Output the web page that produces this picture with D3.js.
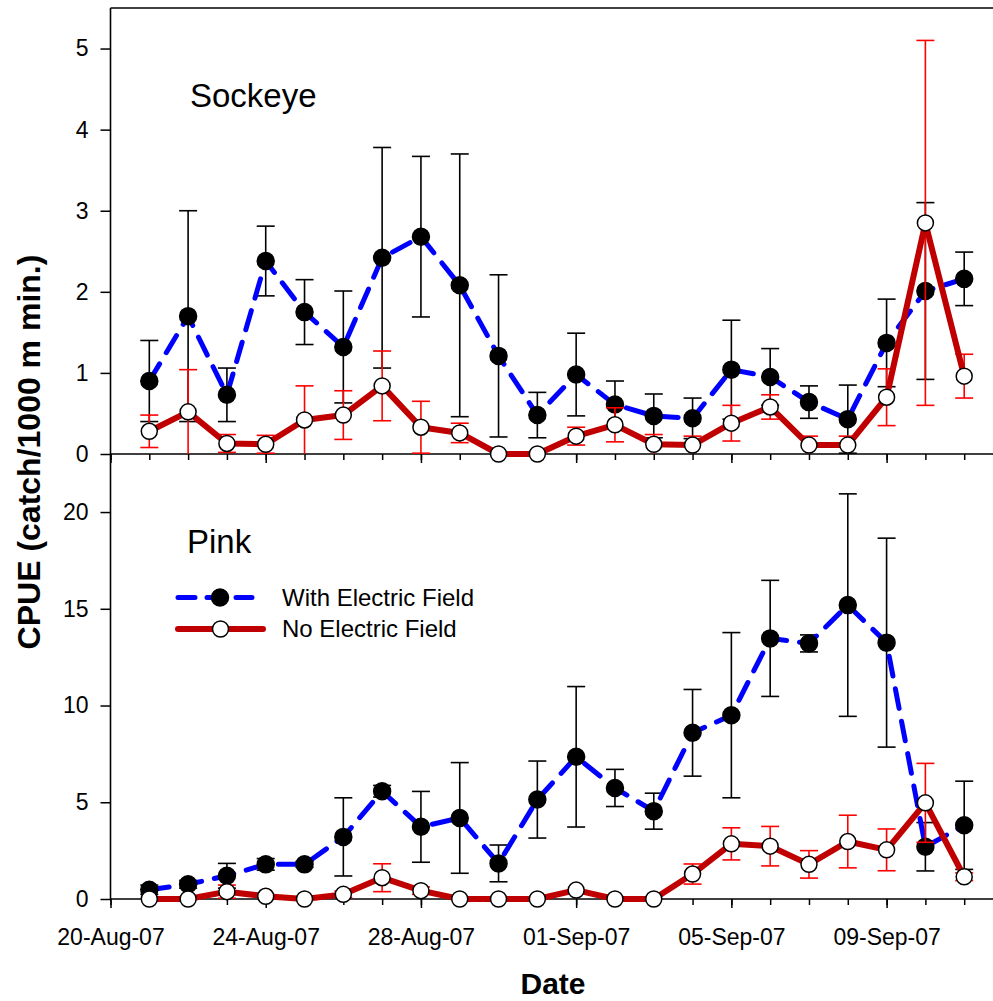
<!DOCTYPE html>
<html><head><meta charset="utf-8">
<script src="https://cdn.jsdelivr.net/npm/d3@7"></script>
<style>body{margin:0;background:#fff} svg{display:block} text{font-family:Arial,"Liberation Sans",sans-serif}</style>
</head><body><svg width="993" height="1001"></svg>
<script>
// ---- data ----
const dates = ["2007-08-21","2007-08-22","2007-08-23","2007-08-24","2007-08-25","2007-08-26","2007-08-27","2007-08-28","2007-08-29","2007-08-30","2007-08-31","2007-09-01","2007-09-02","2007-09-03","2007-09-04","2007-09-05","2007-09-06","2007-09-07","2007-09-08","2007-09-09","2007-09-10","2007-09-11"];
const sockeyeWith   = [0.90,1.70,0.73,2.38,1.75,1.32,2.42,2.68,2.08,1.21,0.48,0.98,0.61,0.47,0.44,1.04,0.95,0.64,0.43,1.37,2.01,2.16];
const sockeyeWithSE = [0.50,1.30,0.33,0.43,0.40,0.69,1.36,0.99,1.62,1.00,0.28,0.51,0.29,0.27,0.25,0.61,0.35,0.20,0.42,0.54,1.09,0.33];
const sockeyeNo     = [0.28,0.52,0.13,0.12,0.42,0.48,0.84,0.33,0.26,0,0,0.22,0.36,0.12,0.11,0.38,0.58,0.11,0.11,0.70,2.85,0.96];
const sockeyeNoSE   = [0.20,0.52,0.11,0.11,0.42,0.30,0.43,0.32,0.12,0,0,0.11,0.21,0.12,0.11,0.22,0.15,0.11,0.11,0.35,2.25,0.27];
const pinkWith      = [0.48,0.76,1.20,1.79,1.79,3.21,5.57,3.73,4.19,1.84,5.14,7.35,5.74,4.54,8.59,9.50,13.47,13.21,15.19,13.25,2.70,3.81];
const pinkWithSE    = [0.24,0.20,0.64,0.30,0.15,2.02,0.30,1.83,2.86,0.95,1.99,3.63,0.96,0.93,2.24,4.27,3.00,0.44,5.75,5.40,1.25,2.28];
const pinkNo        = [0,0,0.38,0.14,0,0.24,1.10,0.43,0,0,0,0.46,0,0,1.29,2.85,2.73,1.79,2.97,2.54,4.97,1.15];
const pinkNoSE      = [0,0,0.34,0,0,0.17,0.72,0.19,0,0,0,0,0,0,0.52,0.83,1.02,0.71,1.36,1.08,2.04,0.20];
const majorTickDates = ["2007-08-20","2007-08-24","2007-08-28","2007-09-01","2007-09-05","2007-09-09"];
const xTickLabels = ["20-Aug-07","24-Aug-07","28-Aug-07","01-Sep-07","05-Sep-07","09-Sep-07"];
const sockeyeTicks = [0,1,2,3,4,5];
const pinkTicks = [0,5,10,15,20];
const seriesNames = ["With Electric Field","No Electric Field"];
const panelNames = ["Sockeye","Pink"];

// ---- scales ----
const parse = d3.timeParse("%Y-%m-%d");
const D = dates.map(parse);
const L = 110.5, R = 1003;
const x = d3.scaleTime().domain([parse("2007-08-20"), parse("2007-09-12")]).range([L, R]);
const yTop = d3.scaleLinear().domain([0, 5.5]).range([454, 8]);
const yBot = d3.scaleLinear().domain([0, 23]).range([899, 454]);

const svg = d3.select("svg");
const BLUE = "#0000ff", DRED = "#c00000", RED = "#ff0000";
const DASH = "20,13";

function drawSeries(y, vals, se, filled) {
  const g = svg.append("g");
  const errCol = filled ? "#000" : RED;
  const cap = 9;
  vals.forEach((v, i) => {
    const cx = x(D[i]);
    const hi = v + se[i], lo = Math.max(0, v - se[i]);
    if (se[i] <= 0) return;
    g.append("line").attr("x1", cx).attr("x2", cx).attr("y1", y(hi)).attr("y2", y(lo))
      .attr("stroke", errCol).attr("stroke-width", 1.6);
    g.append("line").attr("x1", cx - cap).attr("x2", cx + cap).attr("y1", y(hi)).attr("y2", y(hi))
      .attr("stroke", errCol).attr("stroke-width", 1.6);
    if (lo > 0.001) g.append("line").attr("x1", cx - cap).attr("x2", cx + cap).attr("y1", y(lo)).attr("y2", y(lo))
      .attr("stroke", errCol).attr("stroke-width", 1.6);
  });
  const line = d3.line().x((d, i) => x(D[i])).y(d => y(d));
  g.append("path").datum(vals).attr("d", line).attr("fill", "none")
    .attr("stroke", filled ? BLUE : DRED).attr("stroke-width", filled ? 5 : 6)
    .attr("stroke-linecap", "round").attr("stroke-linejoin", "round")
    .attr("stroke-dasharray", filled ? DASH : null);
  g.selectAll("circle").data(vals).join("circle")
    .attr("cx", (d, i) => x(D[i])).attr("cy", d => y(d))
    .attr("r", filled ? 8.5 : 8)
    .attr("fill", filled ? "#000" : "#fff").attr("stroke", "#000").attr("stroke-width", 1.5);
}

// ---- axes ----
function yAxis(y, ticks) {
  const g = svg.append("g").attr("transform", `translate(${L},0)`)
    .call(d3.axisLeft(y).tickValues(ticks).tickSize(10).tickPadding(12).tickFormat(d3.format("d")));
  g.select(".domain").remove();
  g.selectAll("line").attr("stroke-width", 1.5);
  g.selectAll("text").attr("font-size", 23).attr("fill", "#000");
}
function xAxis(yPos, labels) {
  const minor = svg.append("g").attr("transform", `translate(0,${yPos})`)
    .call(d3.axisBottom(x).ticks(d3.timeDay.every(1)).tickSize(6).tickFormat(""));
  minor.select(".domain").remove();
  minor.selectAll("line").attr("stroke-width", 1.5);
  const major = svg.append("g").attr("transform", `translate(0,${yPos})`)
    .call(d3.axisBottom(x).tickValues(majorTickDates.map(parse)).tickSize(9).tickPadding(21)
      .tickFormat((d, i) => labels ? xTickLabels[i] : ""));
  major.select(".domain").remove();
  major.selectAll("line").attr("stroke-width", 1.5);
  major.selectAll("text").attr("font-size", 23).attr("fill", "#000");
}

yAxis(yTop, sockeyeTicks);
yAxis(yBot, pinkTicks);
xAxis(454, false);
xAxis(899, true);

// frame lines
svg.append("line").attr("x1", L).attr("x2", L).attr("y1", 8).attr("y2", 899).attr("stroke", "#000").attr("stroke-width", 1.6);
[8, 454, 899].forEach(yy => svg.append("line").attr("x1", L).attr("x2", R).attr("y1", yy).attr("y2", yy)
  .attr("stroke", "#000").attr("stroke-width", 1.6));

// ---- series ----
drawSeries(yTop, sockeyeWith, sockeyeWithSE, true);
drawSeries(yTop, sockeyeNo, sockeyeNoSE, false);
drawSeries(yBot, pinkWith, pinkWithSE, true);
drawSeries(yBot, pinkNo, pinkNoSE, false);

// ---- labels ----
svg.append("text").attr("x", 190).attr("y", 107).attr("font-size", 33).text(panelNames[0]);
svg.append("text").attr("x", 187).attr("y", 553).attr("font-size", 33).text(panelNames[1]);
svg.append("text").attr("x", 553).attr("y", 994).attr("text-anchor", "middle")
  .attr("font-size", 30).attr("font-weight", "bold").text("Date");
svg.append("text").attr("transform", "translate(40,452) rotate(-90)").attr("text-anchor", "middle")
  .attr("font-size", 32).attr("font-weight", "bold").text("CPUE (catch/1000 m min.)");

// ---- legend ----
const lg = svg.append("g");
lg.append("line").attr("x1", 178).attr("x2", 252).attr("y1", 597.5).attr("y2", 597.5)
  .attr("stroke", BLUE).attr("stroke-width", 5).attr("stroke-linecap", "round").attr("stroke-dasharray", "17,12");
lg.append("circle").attr("cx", 220).attr("cy", 597.5).attr("r", 8.5).attr("fill", "#000").attr("stroke", "#000").attr("stroke-width", 1.5);
lg.append("line").attr("x1", 178).attr("x2", 263).attr("y1", 629).attr("y2", 629)
  .attr("stroke", DRED).attr("stroke-width", 6).attr("stroke-linecap", "round");
lg.append("circle").attr("cx", 220.5).attr("cy", 629).attr("r", 8).attr("fill", "#fff").attr("stroke", "#000").attr("stroke-width", 1.5);
lg.append("text").attr("x", 282).attr("y", 606).attr("font-size", 24).text(seriesNames[0]);
lg.append("text").attr("x", 282).attr("y", 637).attr("font-size", 24).text(seriesNames[1]);
</script></body></html>
